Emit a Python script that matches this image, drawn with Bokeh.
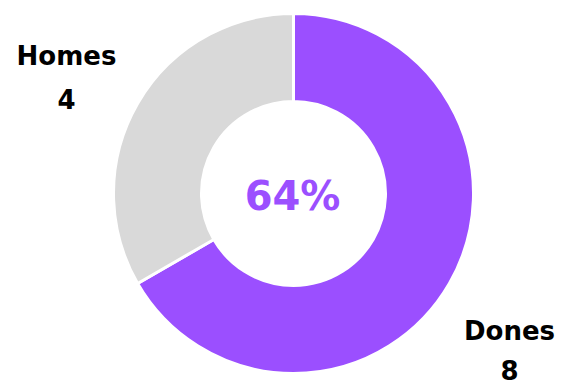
import numpy as np
from bokeh.plotting import figure
from bokeh.models import ColumnDataSource
from bokeh.core.properties import value
from bokeh.embed import file_html
from bokeh.resources import INLINE

categories = ["Dones", "Homes"]
counts = [8, 4]
colors = ["#9b4fff", "#d9d9d9"]
center_label = "64%"

W, H = 562, 388
p = figure(width=W, height=H, x_range=(0, W), y_range=(0, H),
           output_backend="svg", toolbar_location=None, min_border=0,
           outline_line_color=None, background_fill_color="white")
p.axis.visible = False
p.grid.visible = False

cx, cy = 293, 195
r_out, r_in = 180, 92

vals = np.array(counts, dtype=float)
fr = vals / vals.sum()
cum = np.concatenate([[0], np.cumsum(fr)])
# clockwise from top: angle = 90deg - fraction*360
start = np.pi / 2 - cum[1:] * 2 * np.pi
end = np.pi / 2 - cum[:-1] * 2 * np.pi
src = ColumnDataSource(dict(start=start, end=end, color=colors, cat=categories))
p.annular_wedge(x=cx, y=cy, inner_radius=r_in, outer_radius=r_out,
                start_angle="start", end_angle="end", fill_color="color",
                line_color="white", line_width=3, source=src)

font = value("DejaVu Sans")
p.text(x=[292], y=[193], text=[center_label], text_font=font,
       text_font_size="40px", text_font_style="bold", text_color="#9b4fff",
       text_align="center", text_baseline="alphabetic")

lab_x = [509, 66]
name_y = [58, 333]
val_y = [19, 290]
p.text(x=lab_x, y=name_y, text=categories, text_font=font,
       text_font_size="26px", text_font_style="bold", text_color="#000000",
       text_align="center", text_baseline="alphabetic")
p.text(x=lab_x, y=val_y, text=[str(c) for c in counts], text_font=font,
       text_font_size="26px", text_font_style="bold", text_color="#000000",
       text_align="center", text_baseline="alphabetic")

open("out.html", "w").write(file_html(p, INLINE))
